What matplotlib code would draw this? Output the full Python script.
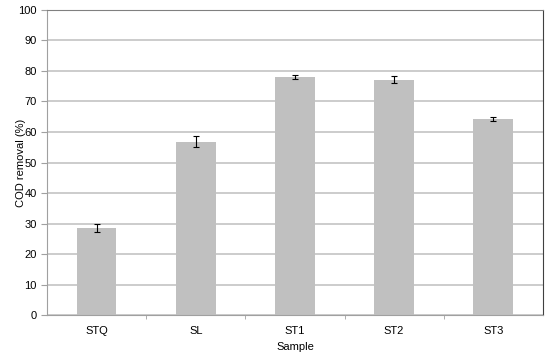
import numpy as np
import matplotlib
matplotlib.use('Agg')
import matplotlib.pyplot as plt

plt.rcParams['font.family'] = ['Liberation Sans', 'DejaVu Sans']

# data
samples = ['STQ', 'SL', 'ST1', 'ST2', 'ST3']
cod_removal = [28.5, 56.8, 78.1, 77.2, 64.3]
cod_err = [1.3, 1.8, 0.7, 1.1, 0.7]

fig = plt.figure(figsize=(5.5, 3.56), dpi=100)
ax = fig.add_axes([0.0855, 0.115, 0.9015, 0.857])

x = np.arange(len(samples))
ax.bar(x, cod_removal, width=0.4, color='#c0c0c0', zorder=2)
ax.errorbar(x, cod_removal, yerr=cod_err, fmt='none', ecolor='black',
            elinewidth=0.8, capsize=2, capthick=0.8, zorder=3)

ax.set_xlim(-0.5, len(samples) - 0.5)
ax.set_ylim(0, 100)
ax.set_yticks(np.arange(0, 101, 10))
ax.yaxis.grid(True, color='#c4c4c4', linewidth=1.2, zorder=0)
ax.set_axisbelow(True)

ax.set_xticks(x)
ax.set_xticklabels(samples, fontsize=8)
ax.set_xticks(np.arange(0.5, len(samples) - 0.5, 1), minor=True)
ax.tick_params(axis='x', which='major', length=0, pad=8)
ax.tick_params(axis='x', which='minor', length=3, color='#a0a0a0')
ax.tick_params(axis='y', labelsize=8, length=4, color='#a0a0a0')

for s in ['left', 'bottom']:
    ax.spines[s].set_color('#a0a0a0')
ax.spines['top'].set_color('#808080')
ax.spines['right'].set_color('#404040')

ax.set_xlabel('Sample', fontsize=8)
ax.set_ylabel('COD removal (%)', fontsize=8)
ax.yaxis.set_label_coords(-0.043, 0.5)

fig.savefig('out.png', dpi=100)
